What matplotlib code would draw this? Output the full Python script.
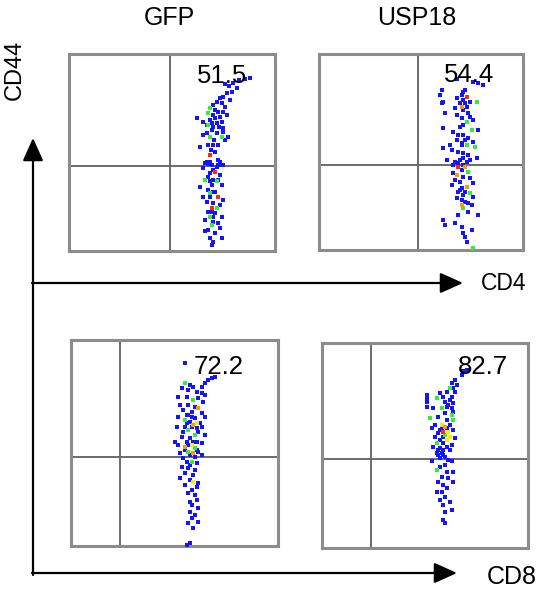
import matplotlib
matplotlib.use("Agg")
import matplotlib.pyplot as plt
import numpy as np

plt.rcParams['font.family'] = ['Liberation Sans', 'DejaVu Sans']

# ---------------- data (percent of panel range) ----------------
titles = ["GFP", "USP18"]
row_markers = ["CD4", "CD8"]
y_marker = "CD44"
percentages = ["51.5", "54.4", "72.2", "82.7"]
gate_x = [49.0, 48.5, 23.7, 23.8]
gate_y = [43.1, 43.4, 43.2, 43.4]

p1_x = [75.7,77.8,79.8,82.7,85.4,87.9,81.4,78.9,76.5,74.9,73.3,78.1,71.7,74.1,70.0,75.7,68.4,70.8,72.5,74.9,
        67.6,69.7,73.3,76.5,61.9,68.4,70.8,74.1,65.2,67.6,70.0,73.0,74.9,69.2,66.8,71.7,65.2,68.4,74.1,70.4,
        63.6,67.6,70.0,72.5,68.7,70.8,68.4,66.0,67.6,69.2,73.3,74.9,71.7,65.2,70.0,68.4,70.8,67.6,73.3,66.0,
        70.0,71.7,69.2,63.6,74.1,67.6,70.8,72.5,65.2,68.4,74.9,66.8,70.0,73.3,69.2,71.7,67.6,70.8,68.4,74.1,
        66.0,70.0,72.5,69.2,67.6,70.8,73.3,66.0,68.4,74.1,70.0,69.2,69.2,71.7,66.8,68.4,66.8,72.5,74.1,72.5,
        70.0,68.4,69.2,70.0,72.5,68.4,74.9,75.7,77.3]
p1_y = [84.6,83.9,85.1,86.8,87.3,88.0,82.6,80.9,80.0,78.3,77.5,76.7,75.8,75.0,74.1,73.3,72.4,71.6,70.7,70.7,
        69.9,69.0,68.2,69.0,67.4,66.5,67.4,65.7,65.7,64.0,63.1,63.1,62.3,61.4,59.8,59.8,58.9,58.1,58.1,56.4,
        53.0,53.8,53.8,53.8,51.3,50.1,48.8,44.5,44.2,43.7,45.4,43.7,42.8,42.0,41.2,39.5,40.3,37.8,38.6,36.1,
        36.1,35.3,33.6,32.7,33.6,31.0,30.2,27.6,27.6,27.6,25.9,25.1,24.3,23.4,21.7,21.7,20.0,19.2,17.5,17.5,
        15.8,14.9,14.1,13.3,10.7,9.1,11.6,9.9,6.5,6.5,4.8,3.1,64.8,64.8,64.0,45.4,45.4,43.7,43.7,46.2,
        30.2,29.3,20.0,17.5,36.1,35.3,60.6,56.4,58.1]
# indices of points in the denser (non-blue) levels
p1_green = [16, 20, 29, 37, 38, 59, 61, 75, 78, 83, 101]
p1_yellow = []
p1_orange = []
p1_red = [46, 56, 67, 74]

p2_x = [67.5,75.6,80.5,78.1,60.1,59.3,60.9,60.1,61.8,67.5,69.9,70.7,71.6,72.4,74.0,77.3,69.1,69.9,72.4,66.7,
        70.7,73.2,74.0,67.5,69.9,72.4,75.6,60.9,70.7,74.8,78.1,65.8,68.3,70.7,73.2,67.5,75.6,64.2,60.9,69.9,
        72.4,76.5,65.0,68.3,70.7,73.2,77.3,62.6,66.7,70.7,74.0,65.8,68.3,71.6,69.9,73.2,65.8,67.5,70.7,74.0,
        66.7,69.1,75.6,65.0,72.4,69.9,68.3,74.0,70.7,75.6,67.5,71.6,69.9,74.8,70.7,73.2,78.1,68.3,60.9,61.8,
        66.7,69.9,74.8,70.7,71.6,72.4,75.6,69.1,72.4,68.3,70.7,69.9,71.6,69.1,71.6,70.7,69.1,71.6,69.9,73.2]
p2_y = [87.5,85.9,84.2,85.0,81.6,79.1,75.7,75.1,69.7,77.3,79.1,80.8,81.6,78.2,75.7,75.7,74.8,73.1,73.1,72.3,
        71.4,69.7,68.0,68.9,67.2,65.5,66.3,62.0,63.8,61.2,61.2,60.3,58.7,58.7,57.0,56.1,55.3,53.6,51.9,54.4,
        53.6,52.7,51.0,50.2,49.3,48.5,46.8,45.9,45.1,46.8,45.9,43.4,42.5,42.5,40.8,39.9,39.1,38.3,37.4,36.6,
        35.7,34.9,34.0,33.2,32.3,31.5,29.8,28.9,28.1,27.2,26.4,24.7,23.0,23.0,21.3,19.6,17.9,17.9,15.3,12.7,
        13.6,11.9,10.2,8.5,6.8,4.3,0.9,45.9,45.1,44.2,43.4,53.6,56.1,62.9,74.8,76.5,30.6,29.8,25.5,23.8]
p2_green = [15, 25, 29, 40, 41, 55, 67, 74, 86]
p2_yellow = []
p2_orange = [17, 53, 57, 64, 72]
p2_red = [13, 52]

p3_x = [55.1,66.3,67.9,69.6,64.7,63.1,55.1,57.5,59.1,53.5,56.7,60.7,63.1,64.7,51.8,55.9,61.5,59.1,63.9,52.6,
        56.7,59.9,61.5,54.3,58.3,63.1,55.9,51.8,59.9,64.7,55.1,57.5,60.7,59.1,51.0,55.1,63.1,56.7,61.5,59.9,
        53.5,64.7,57.5,50.2,55.9,60.7,63.1,51.8,58.3,55.1,59.9,56.7,61.5,52.6,59.1,63.1,54.3,55.9,58.3,60.7,
        53.5,56.7,59.9,55.1,59.1,52.6,57.5,59.1,61.5,55.1,60.7,58.3,56.7,59.9,57.5,60.7,58.3,61.5,57.5,59.9,
        58.3,61.5,56.7,59.1,55.9,57.5,56.7,58.3,55.9,58.3,60.7,54.3,59.1,56.7,55.1,60.7,57.5,59.9,57.5,62.3]
p3_y = [88.7,80.6,81.4,82.2,79.0,77.3,79.0,78.1,77.3,76.5,75.7,74.9,74.1,73.3,72.5,72.5,71.7,70.9,70.0,68.4,
        68.4,67.6,66.8,66.0,65.2,64.4,63.6,62.8,62.0,62.8,61.2,60.3,59.5,58.7,57.9,57.9,57.9,56.3,55.5,53.9,
        53.1,53.9,52.3,50.6,50.6,50.6,49.8,49.0,49.0,48.2,47.4,45.8,45.8,45.0,45.0,44.2,42.5,40.9,40.9,40.1,
        38.5,37.7,36.9,35.3,34.5,32.8,32.0,31.2,30.4,29.6,28.8,27.2,25.6,24.7,21.5,22.3,19.9,18.3,16.7,15.0,
        13.4,11.8,11.0,8.6,0.5,1.3,63.6,62.8,59.5,57.9,57.1,55.5,50.6,49.0,46.6,46.6,44.2,43.4,39.3,59.5]
p3_green = [6, 17, 30, 37, 39, 50, 51, 58]
p3_yellow = [32, 48, 67]
p3_orange = [22, 33, 49, 54]
p3_red = []

p4_x = [68.6,70.3,67.8,64.6,63.0,65.4,62.2,63.8,60.5,64.6,50.8,50.8,57.3,58.9,63.0,55.7,59.7,62.2,63.8,60.5,
        54.1,58.1,63.0,63.8,50.8,59.7,63.0,56.5,52.5,60.5,63.8,54.9,58.1,59.7,62.2,53.3,57.3,58.9,61.4,63.8,
        56.5,59.7,54.9,62.2,64.6,57.3,60.5,55.7,58.9,63.0,54.1,60.5,56.5,62.2,55.7,58.9,57.3,61.4,53.3,63.0,
        59.7,57.3,55.7,60.5,63.8,58.1,61.4,56.5,63.8,58.9,60.5,55.7,58.1,59.7,57.3,62.2,58.9,63.0,59.7,58.9,
        59.7,58.1,60.5,58.9,57.3,58.9,58.1,59.7,56.5,50.8,61.4]
p4_y = [86.1,86.9,84.4,82.0,80.4,79.5,77.9,77.9,76.3,76.3,74.7,73.0,75.5,73.9,73.9,73.0,71.4,72.2,70.6,69.0,
        68.2,68.2,68.2,66.5,69.0,65.7,64.9,64.1,63.3,62.5,62.5,60.0,60.0,59.2,60.0,58.4,57.6,56.8,56.8,57.6,
        56.0,55.2,54.3,54.3,53.5,52.7,52.7,51.1,51.1,50.3,49.5,49.5,47.8,47.8,46.2,45.4,43.8,43.0,42.2,42.2,
        40.5,39.7,38.1,37.3,37.3,34.8,34.0,32.4,32.4,30.8,29.1,27.5,27.5,25.1,23.5,22.6,21.0,18.6,17.8,13.7,
        12.1,58.4,58.4,54.3,48.7,47.8,46.2,44.6,45.4,71.4,69.8]
p4_green = [6, 15, 21, 26, 28, 30, 41, 47, 62]
p4_yellow = [32, 38, 43, 46]
p4_orange = [33]
p4_red = [37]

panels = [
    (p1_x, p1_y, p1_green, p1_yellow, p1_orange, p1_red),
    (p2_x, p2_y, p2_green, p2_yellow, p2_orange, p2_red),
    (p3_x, p3_y, p3_green, p3_yellow, p3_orange, p3_red),
    (p4_x, p4_y, p4_green, p4_yellow, p4_orange, p4_red),
]
label_pos = [(74.3, 88.8), (73.5, 89.3), (71.5, 86.9), (78.2, 88.3)]

# ---------------- layout ----------------
W, H = 543, 590
fig = plt.figure(figsize=(W / 100, H / 100), dpi=100)

boxes = [(69, 54, 275, 251), (319, 54, 523, 250), (71, 340, 278, 546), (322, 343, 528, 548)]
level_colors = ['#1414ff', '#33ee33', '#f0f000', '#ff9900', '#ff2a00']

for i, ((x0, y0, x1, y1), (px, py, gi, yi, oi, ri)) in enumerate(zip(boxes, panels)):
    ax = fig.add_axes([x0 / W, 1 - y1 / H, (x1 - x0) / W, (y1 - y0) / H])
    ax.set_xlim(0, 100)
    ax.set_ylim(0, 100)
    px = np.asarray(px); py = np.asarray(py)
    n = min(len(px), len(py))
    px, py = px[:n], py[:n]
    lvl = np.zeros(n, dtype=int)
    for L, idx in enumerate([gi, yi, oi, ri], start=1):
        idx = [j for j in idx if j < n]
        lvl[idx] = L
    for L in range(5):
        m = lvl == L
        if m.any():
            ax.scatter(px[m], py[m], s=7, marker='s', color=level_colors[L], linewidths=0, zorder=3 + L)
    ax.axvline(gate_x[i], color='#6a6a6a', lw=1.4, zorder=2)
    ax.axhline(gate_y[i], color='#6a6a6a', lw=1.4, zorder=2)
    for sp in ax.spines.values():
        sp.set_color('#8c8c8c')
        sp.set_linewidth(2.2)
    ax.set_xticks([]); ax.set_yticks([])
    lx, ly = label_pos[i]
    ax.text(lx, ly, percentages[i], fontsize=18.5, ha='center', va='center', color='black', zorder=10)

# overlay for annotation arrows and labels
ov = fig.add_axes([0, 0, 1, 1], facecolor='none')
ov.set_xlim(0, W); ov.set_ylim(H, 0); ov.axis('off')
ap = dict(arrowstyle='-|>,head_length=1.0,head_width=0.45', lw=1.6, color='black',
          mutation_scale=14, shrinkA=0, shrinkB=0)
ov.annotate('', xy=(33, 138), xytext=(33, 575), arrowprops=ap)
ov.annotate('', xy=(463, 283), xytext=(32, 283), arrowprops=ap)
ov.annotate('', xy=(457, 573), xytext=(32, 573), arrowprops=ap)
ov.text(169, 18, titles[0], fontsize=18, ha='center', va='center')
ov.text(417, 18, titles[1], fontsize=18, ha='center', va='center')
ov.text(481, 284, row_markers[0], fontsize=16.5, ha='left', va='center')
ov.text(487, 577, row_markers[1], fontsize=18, ha='left', va='center')
ov.text(15, 70, y_marker, fontsize=17, ha='center', va='center', rotation=90)

fig.savefig('out.png', dpi=100)
